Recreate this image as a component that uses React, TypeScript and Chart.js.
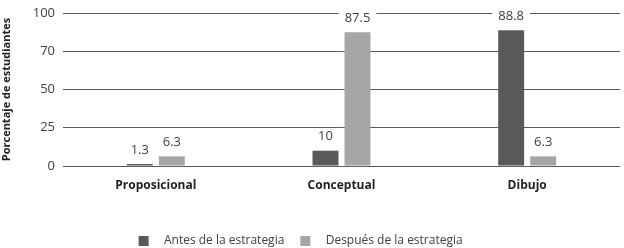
import React, { useEffect, useRef } from "react";
import { Chart, registerables } from "chart.js";

Chart.register(...registerables);

const categories = ["Proposicional", "Conceptual", "Dibujo"];
const antes = [1.3, 10, 88.8];
const despues = [6.3, 87.5, 6.3];
const seriesNames = ["Antes de la estrategia", "Después de la estrategia"];
const tickValues = [0, 25, 50, 75, 100];
const tickLabels = ["0", "25", "50", "70", "100"];

const FONT = "'Open Sans', 'DejaVu Sans', sans-serif";

const valueLabels = {
  id: "valueLabels",
  afterDatasetsDraw(chart: any) {
    const ctx = chart.ctx;
    ctx.save();
    ctx.font = `13px ${FONT}`;
    ctx.textAlign = "center";
    ctx.textBaseline = "middle";
    chart.data.datasets.forEach((ds: any, di: number) => {
      const meta = chart.getDatasetMeta(di);
      meta.data.forEach((bar: any, i: number) => {
        const txt = String(ds.data[i]);
        const w = ctx.measureText(txt).width;
        const y = Math.max(bar.y - 14, chart.chartArea.top + 2);
        ctx.fillStyle = "#ffffff";
        ctx.fillRect(bar.x - w / 2 - 6, y - 7, w + 12, 14);
        ctx.fillStyle = "#404040";
        ctx.fillText(txt, bar.x, y);
      });
    });
    ctx.restore();
  },
};

export default function App() {
  const ref = useRef<HTMLCanvasElement | null>(null);
  useEffect(() => {
    document.body.style.margin = "0";
    const chart = new Chart(ref.current as HTMLCanvasElement, {
      type: "bar",
      data: {
        labels: categories,
        datasets: [
          {
            label: seriesNames[0],
            data: antes,
            backgroundColor: "#595959",
            categoryPercentage: 0.345,
            barPercentage: 0.81,
          },
          {
            label: seriesNames[1],
            data: despues,
            backgroundColor: "#a6a6a6",
            categoryPercentage: 0.345,
            barPercentage: 0.81,
          },
        ],
      },
      options: {
        animation: false,
        responsive: false,
        layout: { padding: { top: 13, right: 4, bottom: -9, left: 0 } },
        plugins: {
          tooltip: { enabled: false },
          legend: {
            position: "bottom",
            labels: {
              boxWidth: 10,
              boxHeight: 10,
              padding: 16,
              color: "#404040",
              font: { family: FONT, size: 12 },
              generateLabels: (c: any) =>
                (Chart as any).defaults.plugins.legend.labels
                  .generateLabels(c)
                  .map((l: any, i: number) => ({
                    ...l,
                    text: "   " + l.text + (i === 1 ? "      " : ""),
                  })),
            },
          },
        },
        scales: {
          x: {
            grid: { display: false, drawTicks: false },
            border: { display: false },
            afterFit: (s: any) => {
              s.height = 53;
            },
            ticks: {
              color: "#222222",
              padding: 12,
              font: { family: FONT, size: 12, weight: "bold" },
            },
          },
          y: {
            min: 0,
            max: 100,
            afterBuildTicks: (s: any) => {
              s.ticks = tickValues.map((v) => ({ value: v }));
            },
            afterFit: (s: any) => {
              s.width = 63;
              s.paddingTop = 0;
              s.paddingBottom = 0;
            },
            grid: { color: "#595959", drawTicks: false },
            border: { display: false },
            ticks: {
              color: "#404040",
              padding: 8,
              font: { family: FONT, size: 13 },
              callback: (v: any) => tickLabels[tickValues.indexOf(Number(v))] ?? "",
            },
            title: {
              display: true,
              text: "Porcentaje de estudiantes",
              color: "#222222",
              padding: 0,
              font: { family: FONT, size: 11, weight: "bold" },
            },
          },
        },
      },
      plugins: [valueLabels],
    });
    return () => chart.destroy();
  }, []);
  return (
    <div style={{ width: 624, height: 248 }}>
      <canvas ref={ref} width={624} height={248} />
    </div>
  );
}
